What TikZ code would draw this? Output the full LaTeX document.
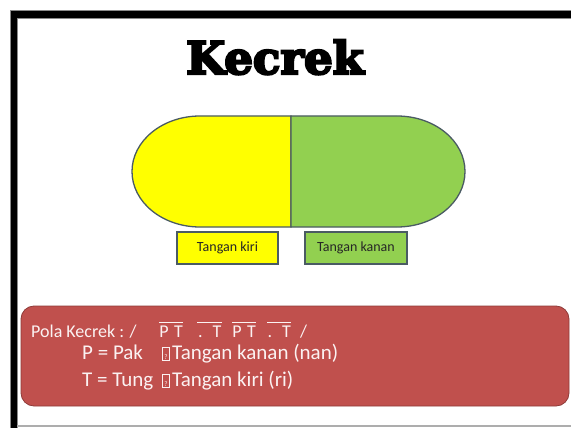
\documentclass[tikz,border=0pt]{standalone}
\usepackage{fontspec}
\setmainfont{Carlito}
\newfontfamily\titlefont[FakeBold=5]{DejaVu Serif Bold}

\definecolor{capyellow}{HTML}{FFFF00}
\definecolor{capgreen}{HTML}{92D050}
\definecolor{capline}{HTML}{4A5B63}
\definecolor{panelred}{HTML}{C0504D}
\definecolor{panelline}{HTML}{8E3B39}
\definecolor{paneltext}{HTML}{FBF2F2}
\definecolor{framegray}{HTML}{8A8A8A}

% overlined group of beat symbols
\newcommand\beat[2]{\vbox{\hrule height 1.3pt\kern 2.4pt\hbox{\makebox[#1][c]{#2}}}}
% missing-glyph box as it is printed
\newcommand\qglyph{\raisebox{-0.5pt}{\setlength\fboxsep{0pt}\setlength\fboxrule{0.5pt}%
  \fbox{\makebox[6.5pt]{\rule{0pt}{12.5pt}\fontsize{7}{7}\selectfont ?}}}}

\tikzset{
  capedge/.style={draw=capline, line width=1.3pt},
  handbox/.style={draw=capline, line width=1.3pt, minimum width=101pt, minimum height=32pt,
    inner sep=0pt, font=\fontsize{14}{16}\selectfont, text=black!85},
  panel/.style={fill=panelred, draw=panelline, line width=0.8pt, rounded corners=13pt},
  paneltxt/.style={text=paneltext, font=\fontsize{21}{24}\selectfont, inner sep=0pt, anchor=base west},
  patterntxt/.style={paneltxt, font=\fontsize{18}{22}\selectfont},
}

\begin{document}
\begin{tikzpicture}[x=1pt, y=-1pt]
  \useasboundingbox (0,0) rectangle (571,428);

  % slide frame: heavy black band on the top and left, thin line at the bottom
  \fill[black] (10,10) rectangle (571,18);
  \fill[black] (10,10) rectangle (17,428);
  \draw[framegray, line width=0.8pt] (10,428) -- (10,10) -- (571,10);
  \draw[framegray, line width=0.8pt] (17,428) -- (17,18) -- (571,18);
  \draw[framegray!70, line width=1.2pt] (17,426) -- (571,426);

  % title
  \node[font=\titlefont\fontsize{45}{48}\selectfont, anchor=base, inner sep=0pt] (title) at (275,74) {Kecrek};

  % the kecrek seen from above: left half yellow, right half green
  \draw[capedge, fill=capyellow] (291,116) -- (200,116)
    arc[start angle=270, end angle=90, x radius=68, y radius=55.5] -- (291,227) -- cycle;
  \draw[capedge, fill=capgreen] (291,116) -- (397,116)
    arc[start angle=270, end angle=450, x radius=68, y radius=55.5] -- (291,227) -- cycle;

  % hand labels
  \node[handbox, fill=capyellow] (kiri) at (227.5,248) {Tangan kiri};
  \node[handbox, fill=capgreen, minimum width=102pt] (kanan) at (356,248) {Tangan kanan};

  % pattern panel
  \draw[panel] (21,306) rectangle (569,406);
  \node[patterntxt] (pola) at (31,337) {Pola Kecrek : /};
  \node[patterntxt] (b1) at (159,337) {\beat{24pt}{P\hspace{0.3em}T}};
  \node[patterntxt] (b2) at (197,337) {\beat{25pt}{.\hspace{0.55em}T}};
  \node[patterntxt] (b3) at (232,337) {\beat{24pt}{P\hspace{0.3em}T}};
  \node[patterntxt] (b4) at (267,337) {\beat{24pt}{.\hspace{0.55em}T}};
  \node[patterntxt] (bar) at (300,337) {/};
  \node[paneltxt] (pak) at (82,359) {\makebox[80pt][l]{P = Pak}\qglyph\hspace{2.5pt}Tangan kanan (nan)};
  \node[paneltxt] (tung) at (82,386) {\makebox[80pt][l]{T = Tung}\qglyph\hspace{2.5pt}Tangan kiri (ri)};
\end{tikzpicture}
\end{document}
